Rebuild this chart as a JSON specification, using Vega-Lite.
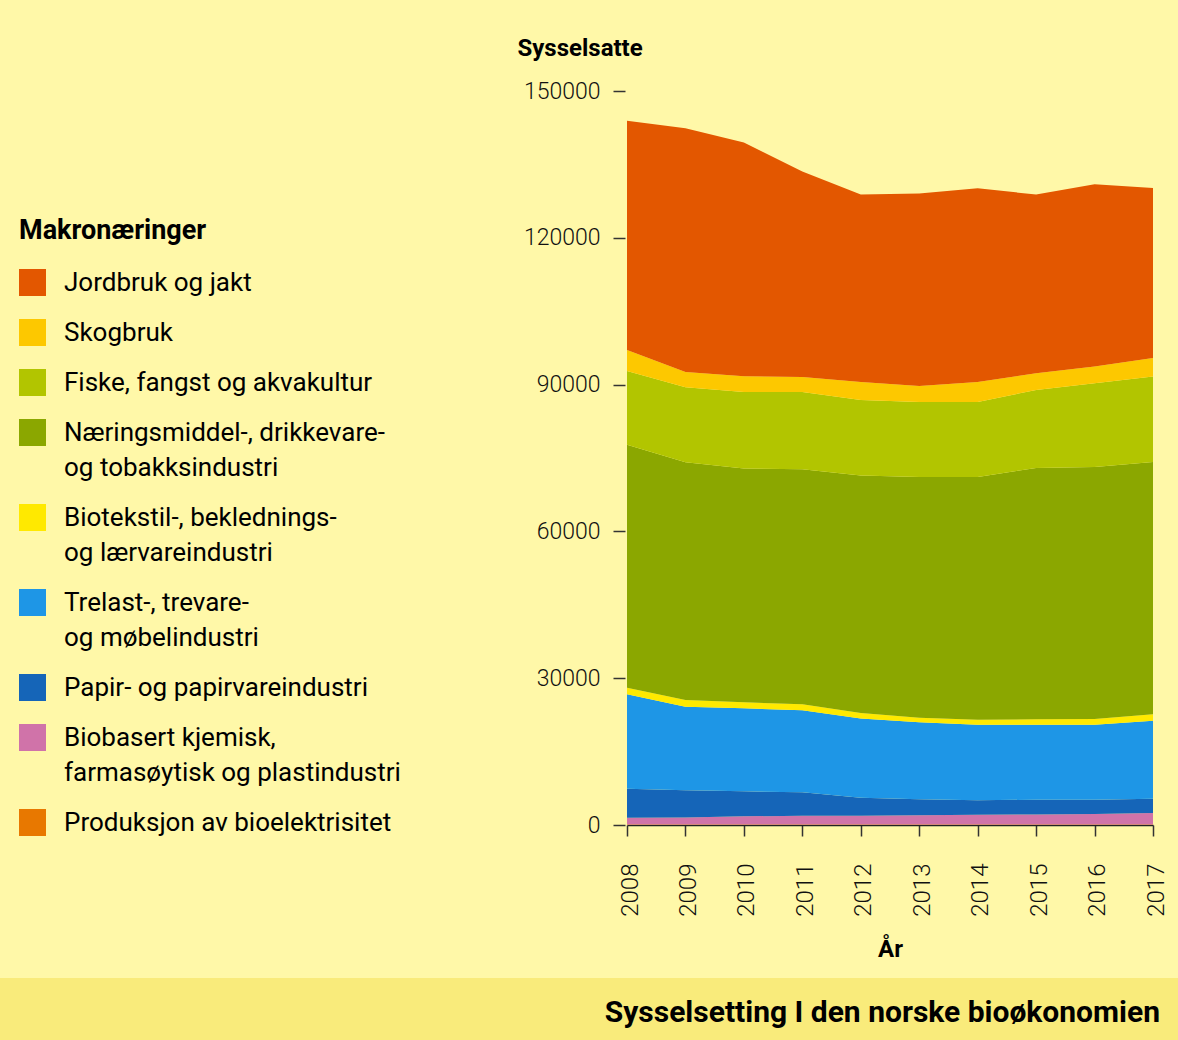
{
  "$schema": "https://vega.github.io/schema/vega-lite/v6.json",
  "background": "#FFF8A8",
  "padding": {"left": 0, "top": 36, "right": 0, "bottom": 0},
  "autosize": {"type": "pad"},
  "spacing": 16,
  "config": {"view": {"stroke": null}, "font": "Roboto", "concat": {"spacing": 0}},
  "vconcat": [
    {
      "hconcat": [
        {
          "width": 517,
          "height": 1,
          "data": {"values": []},
          "mark": "point"
        },
        {
          "width": 526,
          "height": 734,
          "data": {"values": [
            {"year": 2008, "kat": "Produksjon av bioelektrisitet", "nr": 1, "v": 100},
            {"year": 2009, "kat": "Produksjon av bioelektrisitet", "nr": 1, "v": 100},
            {"year": 2010, "kat": "Produksjon av bioelektrisitet", "nr": 1, "v": 100},
            {"year": 2011, "kat": "Produksjon av bioelektrisitet", "nr": 1, "v": 100},
            {"year": 2012, "kat": "Produksjon av bioelektrisitet", "nr": 1, "v": 100},
            {"year": 2013, "kat": "Produksjon av bioelektrisitet", "nr": 1, "v": 100},
            {"year": 2014, "kat": "Produksjon av bioelektrisitet", "nr": 1, "v": 100},
            {"year": 2015, "kat": "Produksjon av bioelektrisitet", "nr": 1, "v": 100},
            {"year": 2016, "kat": "Produksjon av bioelektrisitet", "nr": 1, "v": 100},
            {"year": 2017, "kat": "Produksjon av bioelektrisitet", "nr": 1, "v": 100},
            {"year": 2008, "kat": "Biobasert kjemisk, farmasøytisk og plastindustri", "nr": 2, "v": 1400},
            {"year": 2009, "kat": "Biobasert kjemisk, farmasøytisk og plastindustri", "nr": 2, "v": 1450},
            {"year": 2010, "kat": "Biobasert kjemisk, farmasøytisk og plastindustri", "nr": 2, "v": 1670},
            {"year": 2011, "kat": "Biobasert kjemisk, farmasøytisk og plastindustri", "nr": 2, "v": 1810},
            {"year": 2012, "kat": "Biobasert kjemisk, farmasøytisk og plastindustri", "nr": 2, "v": 1810},
            {"year": 2013, "kat": "Biobasert kjemisk, farmasøytisk og plastindustri", "nr": 2, "v": 1880},
            {"year": 2014, "kat": "Biobasert kjemisk, farmasøytisk og plastindustri", "nr": 2, "v": 2010},
            {"year": 2015, "kat": "Biobasert kjemisk, farmasøytisk og plastindustri", "nr": 2, "v": 2050},
            {"year": 2016, "kat": "Biobasert kjemisk, farmasøytisk og plastindustri", "nr": 2, "v": 2150},
            {"year": 2017, "kat": "Biobasert kjemisk, farmasøytisk og plastindustri", "nr": 2, "v": 2350},
            {"year": 2008, "kat": "Papir- og papirvareindustri", "nr": 3, "v": 5930},
            {"year": 2009, "kat": "Papir- og papirvareindustri", "nr": 3, "v": 5540},
            {"year": 2010, "kat": "Papir- og papirvareindustri", "nr": 3, "v": 5110},
            {"year": 2011, "kat": "Papir- og papirvareindustri", "nr": 3, "v": 4770},
            {"year": 2012, "kat": "Papir- og papirvareindustri", "nr": 3, "v": 3680},
            {"year": 2013, "kat": "Papir- og papirvareindustri", "nr": 3, "v": 3270},
            {"year": 2014, "kat": "Papir- og papirvareindustri", "nr": 3, "v": 2930},
            {"year": 2015, "kat": "Papir- og papirvareindustri", "nr": 3, "v": 3030},
            {"year": 2016, "kat": "Papir- og papirvareindustri", "nr": 3, "v": 2930},
            {"year": 2017, "kat": "Papir- og papirvareindustri", "nr": 3, "v": 2930},
            {"year": 2008, "kat": "Trelast-, trevare- og møbelindustri", "nr": 4, "v": 19280},
            {"year": 2009, "kat": "Trelast-, trevare- og møbelindustri", "nr": 4, "v": 17100},
            {"year": 2010, "kat": "Trelast-, trevare- og møbelindustri", "nr": 4, "v": 16970},
            {"year": 2011, "kat": "Trelast-, trevare- og møbelindustri", "nr": 4, "v": 16760},
            {"year": 2012, "kat": "Trelast-, trevare- og møbelindustri", "nr": 4, "v": 16150},
            {"year": 2013, "kat": "Trelast-, trevare- og møbelindustri", "nr": 4, "v": 15740},
            {"year": 2014, "kat": "Trelast-, trevare- og møbelindustri", "nr": 4, "v": 15470},
            {"year": 2015, "kat": "Trelast-, trevare- og møbelindustri", "nr": 4, "v": 15330},
            {"year": 2016, "kat": "Trelast-, trevare- og møbelindustri", "nr": 4, "v": 15330},
            {"year": 2017, "kat": "Trelast-, trevare- og møbelindustri", "nr": 4, "v": 15950},
            {"year": 2008, "kat": "Biotekstil-, beklednings- og lærvareindustri", "nr": 5, "v": 1350},
            {"year": 2009, "kat": "Biotekstil-, beklednings- og lærvareindustri", "nr": 5, "v": 1360},
            {"year": 2010, "kat": "Biotekstil-, beklednings- og lærvareindustri", "nr": 5, "v": 1220},
            {"year": 2011, "kat": "Biotekstil-, beklednings- og lærvareindustri", "nr": 5, "v": 1230},
            {"year": 2012, "kat": "Biotekstil-, beklednings- og lærvareindustri", "nr": 5, "v": 1150},
            {"year": 2013, "kat": "Biotekstil-, beklednings- og lærvareindustri", "nr": 5, "v": 950},
            {"year": 2014, "kat": "Biotekstil-, beklednings- og lærvareindustri", "nr": 5, "v": 1020},
            {"year": 2015, "kat": "Biotekstil-, beklednings- og lærvareindustri", "nr": 5, "v": 1090},
            {"year": 2016, "kat": "Biotekstil-, beklednings- og lærvareindustri", "nr": 5, "v": 1160},
            {"year": 2017, "kat": "Biotekstil-, beklednings- og lærvareindustri", "nr": 5, "v": 1290},
            {"year": 2008, "kat": "Næringsmiddel-, drikkevare- og tobakksindustri", "nr": 6, "v": 49670},
            {"year": 2009, "kat": "Næringsmiddel-, drikkevare- og tobakksindustri", "nr": 6, "v": 48580},
            {"year": 2010, "kat": "Næringsmiddel-, drikkevare- og tobakksindustri", "nr": 6, "v": 47760},
            {"year": 2011, "kat": "Næringsmiddel-, drikkevare- og tobakksindustri", "nr": 6, "v": 48030},
            {"year": 2012, "kat": "Næringsmiddel-, drikkevare- og tobakksindustri", "nr": 6, "v": 48510},
            {"year": 2013, "kat": "Næringsmiddel-, drikkevare- og tobakksindustri", "nr": 6, "v": 49190},
            {"year": 2014, "kat": "Næringsmiddel-, drikkevare- og tobakksindustri", "nr": 6, "v": 49600},
            {"year": 2015, "kat": "Næringsmiddel-, drikkevare- og tobakksindustri", "nr": 6, "v": 51370},
            {"year": 2016, "kat": "Næringsmiddel-, drikkevare- og tobakksindustri", "nr": 6, "v": 51510},
            {"year": 2017, "kat": "Næringsmiddel-, drikkevare- og tobakksindustri", "nr": 6, "v": 51580},
            {"year": 2008, "kat": "Fiske, fangst og akvakultur", "nr": 7, "v": 15070},
            {"year": 2009, "kat": "Fiske, fangst og akvakultur", "nr": 7, "v": 15330},
            {"year": 2010, "kat": "Fiske, fangst og akvakultur", "nr": 7, "v": 15670},
            {"year": 2011, "kat": "Fiske, fangst og akvakultur", "nr": 7, "v": 15800},
            {"year": 2012, "kat": "Fiske, fangst og akvakultur", "nr": 7, "v": 15470},
            {"year": 2013, "kat": "Fiske, fangst og akvakultur", "nr": 7, "v": 15330},
            {"year": 2014, "kat": "Fiske, fangst og akvakultur", "nr": 7, "v": 15330},
            {"year": 2015, "kat": "Fiske, fangst og akvakultur", "nr": 7, "v": 15940},
            {"year": 2016, "kat": "Fiske, fangst og akvakultur", "nr": 7, "v": 17100},
            {"year": 2017, "kat": "Fiske, fangst og akvakultur", "nr": 7, "v": 17430},
            {"year": 2008, "kat": "Skogbruk", "nr": 8, "v": 4290},
            {"year": 2009, "kat": "Skogbruk", "nr": 8, "v": 3130},
            {"year": 2010, "kat": "Skogbruk", "nr": 8, "v": 3210},
            {"year": 2011, "kat": "Skogbruk", "nr": 8, "v": 3070},
            {"year": 2012, "kat": "Skogbruk", "nr": 8, "v": 3680},
            {"year": 2013, "kat": "Skogbruk", "nr": 8, "v": 3270},
            {"year": 2014, "kat": "Skogbruk", "nr": 8, "v": 4090},
            {"year": 2015, "kat": "Skogbruk", "nr": 8, "v": 3420},
            {"year": 2016, "kat": "Skogbruk", "nr": 8, "v": 3400},
            {"year": 2017, "kat": "Skogbruk", "nr": 8, "v": 3820},
            {"year": 2008, "kat": "Jordbruk og jakt", "nr": 9, "v": 46810},
            {"year": 2009, "kat": "Jordbruk og jakt", "nr": 9, "v": 49810},
            {"year": 2010, "kat": "Jordbruk og jakt", "nr": 9, "v": 47750},
            {"year": 2011, "kat": "Jordbruk og jakt", "nr": 9, "v": 41970},
            {"year": 2012, "kat": "Jordbruk og jakt", "nr": 9, "v": 38280},
            {"year": 2013, "kat": "Jordbruk og jakt", "nr": 9, "v": 39310},
            {"year": 2014, "kat": "Jordbruk og jakt", "nr": 9, "v": 39590},
            {"year": 2015, "kat": "Jordbruk og jakt", "nr": 9, "v": 36500},
            {"year": 2016, "kat": "Jordbruk og jakt", "nr": 9, "v": 37280},
            {"year": 2017, "kat": "Jordbruk og jakt", "nr": 9, "v": 34750}
          ]},
          "mark": {"type": "area", "interpolate": "linear", "opacity": 1},
          "encoding": {
            "x": {
              "field": "year", "type": "quantitative",
              "scale": {"domain": [2008, 2017], "nice": false, "zero": false},
              "axis": {
                "values": [2008, 2009, 2010, 2011, 2012, 2013, 2014, 2015, 2016, 2017],
                "format": "d", "labelAngle": -90, "labelFontSize": 24, "labelFontWeight": 300,
                "labelColor": "#111", "labelPadding": 27, "labelOffset": 3, "labelFlush": false, "labelOverlap": false,
                "domainColor": "#222", "domainWidth": 1.5, "tickColor": "#333", "tickWidth": 1.5, "tickSize": 11,
                "grid": false,
                "title": "År", "titleFontSize": 24, "titleFontWeight": "bold", "titleColor": "#000", "titlePadding": 21
              }
            },
            "y": {
              "field": "v", "type": "quantitative", "stack": "zero",
              "scale": {"domain": [0, 150000], "nice": false},
              "axis": {
                "values": [0, 30000, 60000, 90000, 120000, 150000],
                "format": "d", "labelFontSize": 23, "labelFontWeight": 300, "labelColor": "#111",
                "labelPadding": 13, "domain": false, "grid": false,
                "tickColor": "#333", "tickWidth": 1.5, "tickSize": 12, "offset": 2,
                "title": "Sysselsatte", "titleAngle": 0, "titleX": -108, "titleY": -43,
                "titleAlign": "left", "titleBaseline": "middle",
                "titleFontSize": 24, "titleFontWeight": "bold", "titleColor": "#000"
              }
            },
            "color": {
              "field": "kat", "type": "nominal",
              "scale": {
                "domain": ["Jordbruk og jakt", "Skogbruk", "Fiske, fangst og akvakultur", "Næringsmiddel-, drikkevare- og tobakksindustri", "Biotekstil-, beklednings- og lærvareindustri", "Trelast-, trevare- og møbelindustri", "Papir- og papirvareindustri", "Biobasert kjemisk, farmasøytisk og plastindustri", "Produksjon av bioelektrisitet"],
                "range": ["#E35700", "#FDC800", "#B2C500", "#8BA700", "#FFE900", "#1E96E6", "#1565B8", "#D073A9", "#E87800"]
              },
              "legend": {
                "orient": "none", "legendX": 0, "legendY": 108, "padding": 19,
                "title": "Makronæringer", "titleFontSize": 27, "titleFontWeight": "bold", "titleColor": "#000",
                "titlePadding": 24, "titleLimit": 600,
                "symbolType": "square", "symbolSize": 729, "symbolStrokeWidth": 0, "symbolOpacity": 1,
                "labelFontSize": 26, "labelColor": "#000", "labelOffset": 18, "labelLimit": 600,
                "rowPadding": 23,
                "labelExpr": "indexof(datum.label, 'Næringsmiddel') == 0 ? ['Næringsmiddel-, drikkevare-', 'og tobakksindustri'] : indexof(datum.label, 'Biotekstil') == 0 ? ['Biotekstil-, beklednings-', 'og lærvareindustri'] : indexof(datum.label, 'Trelast') == 0 ? ['Trelast-, trevare-', 'og møbelindustri'] : indexof(datum.label, 'Biobasert') == 0 ? ['Biobasert kjemisk,', 'farmasøytisk og plastindustri'] : datum.label",
                "encode": {"labels": {"update": {"lineHeight": {"value": 35}}}}
              }
            },
            "order": {"field": "nr", "type": "quantitative"}
          }
        }
      ]
    },
    {
      "width": 1178,
      "height": 62,
      "view": {"fill": "#F9EB7B", "stroke": null},
      "data": {"values": []},
      "mark": "point",
      "title": {
        "text": "Sysselsetting I den norske bioøkonomien",
        "orient": "top", "anchor": "end", "offset": -74, "baseline": "alphabetic",
        "fontSize": 30, "fontWeight": "bold", "color": "#000", "dx": -18
      }
    }
  ]
}
